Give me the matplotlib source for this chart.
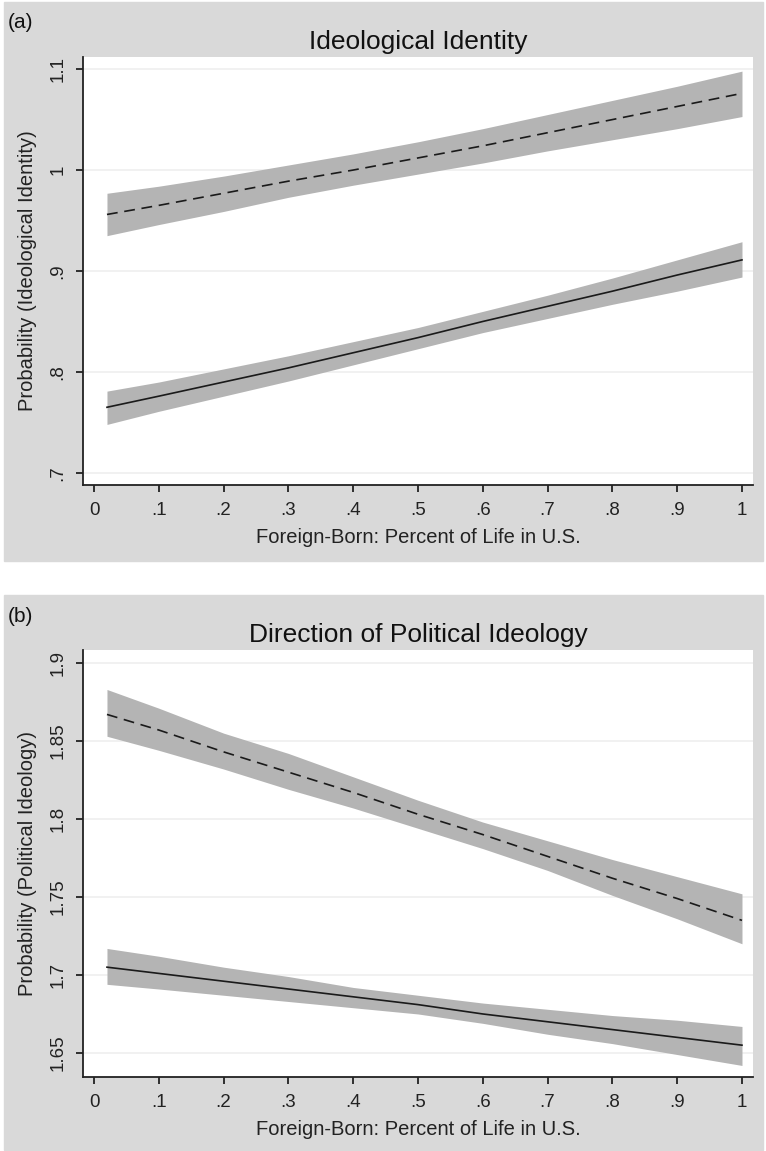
import numpy as np
import matplotlib.pyplot as plt
from matplotlib.patches import Rectangle

plt.rcParams['font.family'] = ['Liberation Sans', 'DejaVu Sans']

# x positions (share of life in U.S.)
x = [0.02, 0.1, 0.2, 0.3, 0.4, 0.5, 0.6, 0.7, 0.8, 0.9, 1.0]

# (a) Ideological Identity
a_dash = [0.956, 0.965, 0.977, 0.989, 1.000, 1.012, 1.024, 1.037, 1.050, 1.063, 1.076]
a_dash_hi = [0.977, 0.984, 0.994, 1.005, 1.016, 1.028, 1.041, 1.055, 1.069, 1.083, 1.098]
a_dash_lo = [0.935, 0.946, 0.959, 0.973, 0.985, 0.996, 1.007, 1.019, 1.030, 1.041, 1.053]
a_solid = [0.765, 0.776, 0.790, 0.804, 0.819, 0.834, 0.850, 0.865, 0.880, 0.896, 0.911]
a_solid_hi = [0.781, 0.790, 0.803, 0.816, 0.830, 0.844, 0.860, 0.876, 0.893, 0.911, 0.929]
a_solid_lo = [0.748, 0.761, 0.776, 0.791, 0.807, 0.823, 0.839, 0.853, 0.867, 0.880, 0.894]

# (b) Direction of Political Ideology
b_dash = [1.867, 1.857, 1.843, 1.830, 1.817, 1.803, 1.790, 1.776, 1.762, 1.749, 1.735]
b_dash_hi = [1.883, 1.871, 1.855, 1.842, 1.827, 1.812, 1.798, 1.786, 1.774, 1.763, 1.752]
b_dash_lo = [1.853, 1.844, 1.832, 1.819, 1.807, 1.794, 1.781, 1.767, 1.751, 1.736, 1.720]
b_solid = [1.705, 1.701, 1.696, 1.691, 1.686, 1.681, 1.675, 1.670, 1.665, 1.660, 1.655]
b_solid_hi = [1.717, 1.712, 1.705, 1.699, 1.692, 1.687, 1.682, 1.678, 1.674, 1.671, 1.667]
b_solid_lo = [1.694, 1.691, 1.687, 1.683, 1.679, 1.675, 1.669, 1.662, 1.656, 1.649, 1.642]

xticks = [0, 0.1, 0.2, 0.3, 0.4, 0.5, 0.6, 0.7, 0.8, 0.9, 1]
xticklabels = ['0', '.1', '.2', '.3', '.4', '.5', '.6', '.7', '.8', '.9', '1']
a_yticks = [0.7, 0.8, 0.9, 1.0, 1.1]
a_yticklabels = ['.7', '.8', '.9', '1', '1.1']
b_yticks = [1.65, 1.7, 1.75, 1.8, 1.85, 1.9]
b_yticklabels = ['1.65', '1.7', '1.75', '1.8', '1.85', '1.9']

W, H = 766, 1151
fig = plt.figure(figsize=(W / 100, H / 100), dpi=100)
fig.patch.set_facecolor('white')

gray = '#d9d9d9'
band = '#b4b4b4'
ink = '#1a1a1a'

# gray panel backgrounds, kept under the axes
fig.patches.append(Rectangle((4 / W, 1 - 561 / H), 759 / W, 559 / H,
                             transform=fig.transFigure, color=gray, zorder=-5))
fig.patches.append(Rectangle((4 / W, 1 - 1150 / H), 759 / W, 555 / H,
                             transform=fig.transFigure, color=gray, zorder=-5))

ax_a = fig.add_axes([83 / W, 1 - 485 / H, 670 / W, 428 / H], zorder=2)
ax_b = fig.add_axes([83 / W, 1 - 1077 / H, 670 / W, 427 / H], zorder=2)


def draw(ax, dash, dash_lo, dash_hi, solid, solid_lo, solid_hi,
         yticks, yticklabels, ylim, title, ylabel):
    ax.set_facecolor('white')
    ax.fill_between(x, dash_lo, dash_hi, color=band, lw=0, zorder=2)
    ax.fill_between(x, solid_lo, solid_hi, color=band, lw=0, zorder=2)
    ax.plot(x, dash, color=ink, lw=1.2, dashes=(6.5, 4), zorder=3)
    ax.plot(x, solid, color=ink, lw=1.2, zorder=3)
    ax.set_xlim(-0.017, 1.017)
    ax.set_ylim(*ylim)
    ax.set_xticks(xticks)
    ax.set_xticklabels(xticklabels)
    ax.set_yticks(yticks)
    ax.set_yticklabels(yticklabels, rotation=90, va='center')
    for t in yticks:
        ax.axhline(t, color='#efefef', lw=1.2, zorder=1)
    for s in ['top', 'right']:
        ax.spines[s].set_visible(False)
    for s in ['left', 'bottom']:
        ax.spines[s].set_color('#222222')
        ax.spines[s].set_linewidth(1.3)
    ax.tick_params(direction='out', length=5, width=1.3, color='#222222',
                   labelsize=13.5, labelcolor='#222222')
    ax.tick_params(axis='x', pad=7)
    ax.tick_params(axis='y', pad=7)
    ax.set_title(title, fontsize=19, color='#111111', pad=6)
    ax.set_xlabel('Foreign-Born: Percent of Life in U.S.', fontsize=14.5,
                  color='#222222', labelpad=7)
    ax.set_ylabel(ylabel, fontsize=14.5, color='#222222', labelpad=9)


draw(ax_a, a_dash, a_dash_lo, a_dash_hi, a_solid, a_solid_lo, a_solid_hi,
     a_yticks, a_yticklabels, (0.688, 1.112), 'Ideological Identity',
     'Probability (Ideological Identity)')
draw(ax_b, b_dash, b_dash_lo, b_dash_hi, b_solid, b_solid_lo, b_solid_hi,
     b_yticks, b_yticklabels, (1.6346, 1.9083), 'Direction of Political Ideology',
     'Probability (Political Ideology)')

fig.text(8 / W, 1 - 23 / H, '(a)', fontsize=15, va='center', ha='left', color='#111111')
fig.text(8 / W, 1 - 616 / H, '(b)', fontsize=15, va='center', ha='left', color='#111111')

fig.savefig('out.png', dpi=100, facecolor='white')
